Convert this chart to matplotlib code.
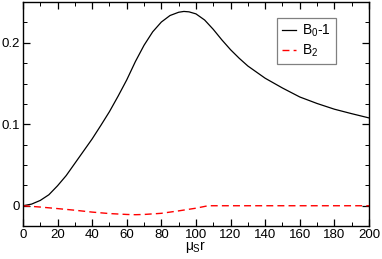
import numpy as np
import matplotlib
matplotlib.use("Agg")
import matplotlib.pyplot as plt
from matplotlib.ticker import MultipleLocator, FixedLocator

# B0 - 1 curve
x_b0 = [0, 5, 10, 15, 20, 25, 30, 35, 40, 45, 50, 55, 60, 65, 70, 75, 80, 85, 90, 93,
        96, 100, 105, 110, 115, 120, 125, 130, 140, 150, 160, 170, 180, 190, 200]
b0 = [0, 0.002, 0.0065, 0.0135, 0.0245, 0.037, 0.052, 0.067, 0.082, 0.0985, 0.1155,
      0.1345, 0.1545, 0.177, 0.197, 0.2135, 0.2255, 0.2335, 0.2375, 0.2385, 0.238,
      0.2355, 0.228, 0.2165, 0.2035, 0.1915, 0.181, 0.1715, 0.1565, 0.1445, 0.1335,
      0.1255, 0.1185, 0.113, 0.1078]

# B2 curve
x_b2 = [0, 10, 20, 30, 40, 50, 60, 65, 70, 80, 90, 100, 107, 120, 140, 160, 180, 200]
b2 = [0, -0.0016, -0.0035, -0.0055, -0.0078, -0.0096, -0.0107, -0.011, -0.0107,
      -0.0093, -0.0063, -0.003, 0, 0, 0, 0, 0, 0]

plt.rcParams["font.family"] = ["Liberation Sans", "DejaVu Sans"]
plt.rcParams["mathtext.fontset"] = "custom"
plt.rcParams["mathtext.rm"] = "Liberation Sans"
plt.rcParams["mathtext.it"] = "Liberation Sans"

fig = plt.figure(figsize=(3.82, 2.59), dpi=100)
ax = fig.add_axes([0.060, 0.127, 0.906, 0.865])

ax.plot(x_b0, b0, color="black", lw=0.9, label="B$_0$-1")
ax.plot(x_b2, b2, color="red", lw=1.0, dashes=(5, 3), label="B$_2$")

ax.set_xlim(0, 200)
ax.set_ylim(-0.025, 0.25)

ax.xaxis.set_major_locator(MultipleLocator(20))
ax.xaxis.set_minor_locator(MultipleLocator(10))
ax.yaxis.set_major_locator(FixedLocator([0, 0.1, 0.2]))
ax.yaxis.set_minor_locator(MultipleLocator(0.025))
ax.set_yticklabels(["0", "0.1", "0.2"])

ax.tick_params(which="both", direction="in", top=True, right=True, labelsize=9.5, pad=2)
ax.tick_params(which="major", length=5, width=0.9)
ax.tick_params(which="minor", length=3, width=0.7)
for s in ax.spines.values():
    s.set_linewidth(1.0)

ax.set_xlabel("$\\mu_S$r", fontsize=10, labelpad=-1)

leg = ax.legend(loc="upper right", bbox_to_anchor=(0.905, 0.929), borderaxespad=0,
                fontsize=10, fancybox=False, framealpha=1, edgecolor="gray",
                handlelength=1.0, handletextpad=0.5, borderpad=0.35, labelspacing=0.25)
leg.get_frame().set_linewidth(0.9)

fig.savefig("out.png", dpi=100)
